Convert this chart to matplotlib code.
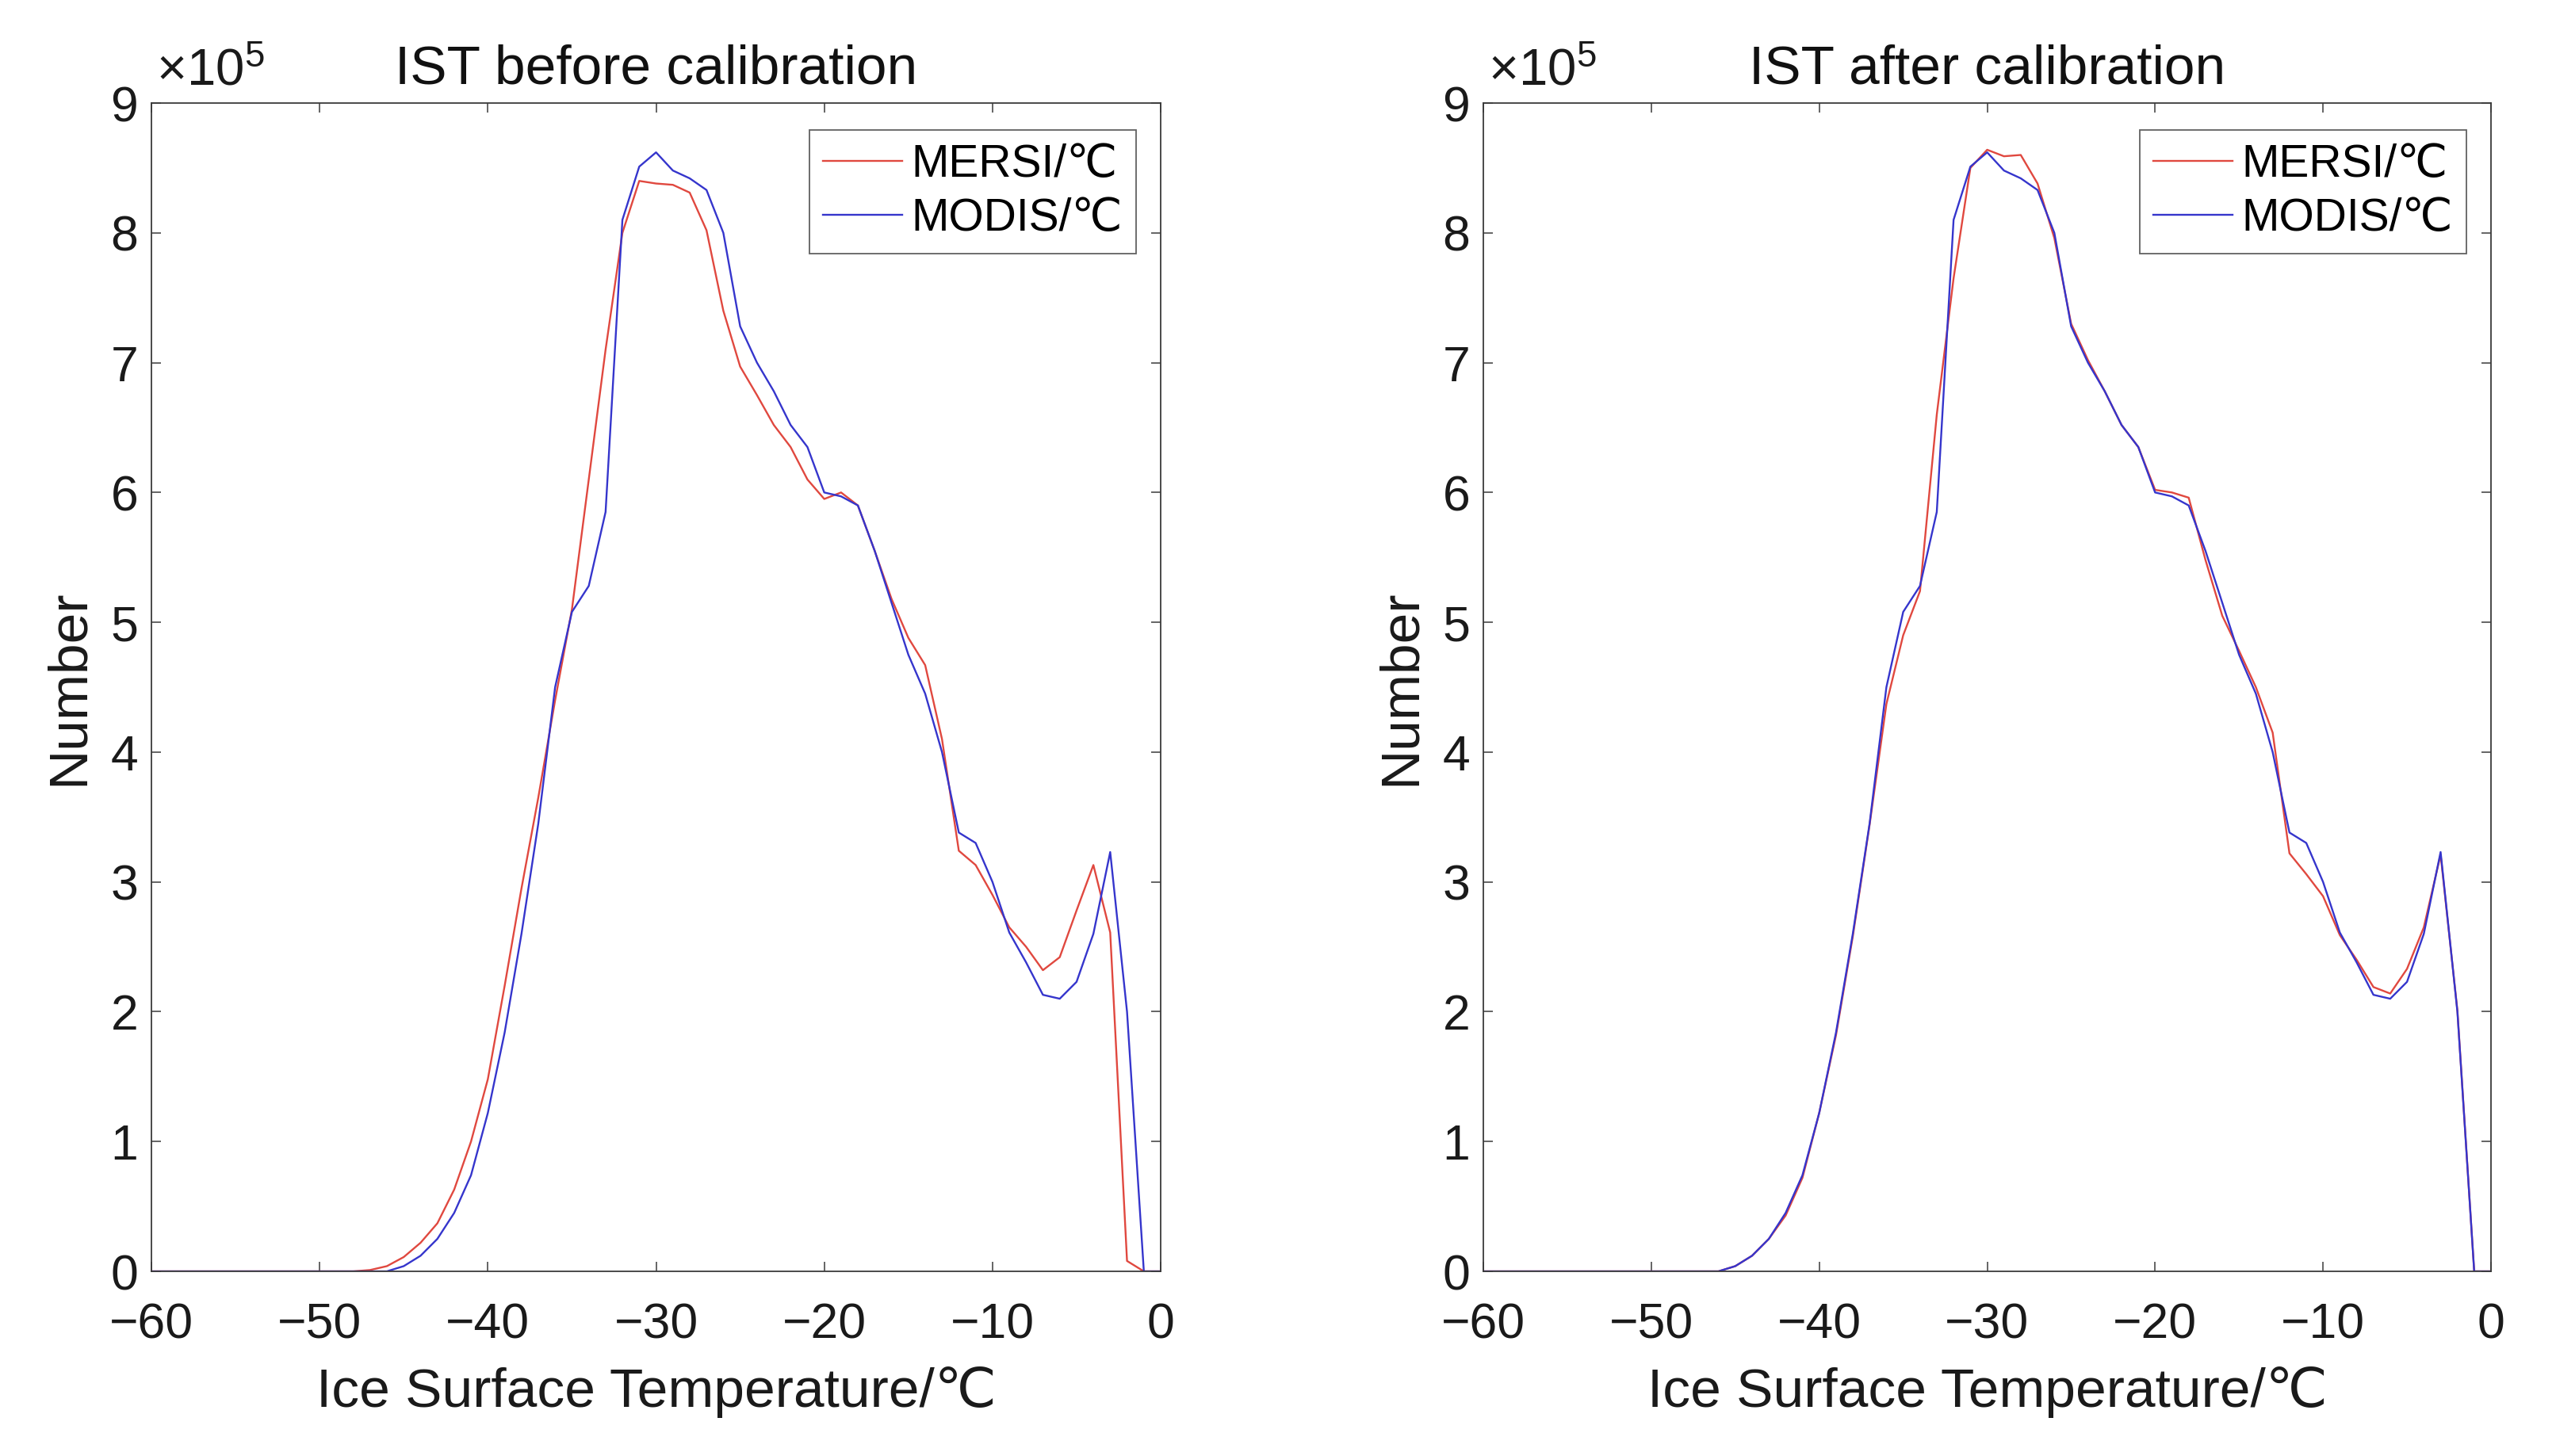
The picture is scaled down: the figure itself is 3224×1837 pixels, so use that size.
import matplotlib
matplotlib.use("Agg")
import matplotlib.pyplot as plt
import numpy as np

plt.rcParams['font.family'] = ['Liberation Sans', 'DejaVu Sans']

# Temperature bins (°C), 1 °C steps from -60 to 0
temperature = list(range(-60, 1))

# Counts in units of 10^5
modis = [0]*14 + [
    0.00, 0.04, 0.12, 0.25, 0.45, 0.74, 1.22, 1.84, 2.60, 3.45,   # -46 .. -37
    4.50, 5.08, 5.28, 5.85, 8.10, 8.51, 8.62, 8.48, 8.42, 8.33,   # -36 .. -27
    8.00, 7.28, 7.00, 6.78, 6.52, 6.35, 6.00, 5.97, 5.90, 5.55,   # -26 .. -17
    5.15, 4.75, 4.45, 4.00, 3.38, 3.30, 3.00, 2.61, 2.38, 2.13,   # -16 .. -7
    2.10, 2.23, 2.60, 3.23, 2.00, 0.00, 0.00]                     # -6 .. 0

mersi_before = [0]*13 + [
    0.01, 0.04, 0.11, 0.22, 0.37, 0.63, 1.00, 1.48, 2.20, 2.95,   # -47 .. -38
    3.65, 4.40, 5.10, 6.10, 7.10, 8.00, 8.40, 8.38, 8.37, 8.31,   # -37 .. -28
    8.02, 7.40, 6.97, 6.75, 6.52, 6.35, 6.10, 5.95, 6.00, 5.90,   # -27 .. -18
    5.55, 5.18, 4.88, 4.67, 4.10, 3.24, 3.13, 2.90, 2.65, 2.50,   # -17 .. -8
    2.32, 2.42, 2.78, 3.13, 2.61, 0.08, 0.00, 0.00]               # -7 .. 0

mersi_after = [0]*14 + [
    0.00, 0.04, 0.12, 0.25, 0.43, 0.72, 1.22, 1.82, 2.58, 3.44,   # -46 .. -37
    4.37, 4.90, 5.24, 6.60, 7.65, 8.50, 8.64, 8.59, 8.60, 8.38,   # -36 .. -27
    7.96, 7.30, 7.02, 6.78, 6.52, 6.35, 6.02, 6.00, 5.96, 5.48,   # -26 .. -17
    5.05, 4.78, 4.50, 4.15, 3.22, 3.06, 2.89, 2.59, 2.40, 2.19,   # -16 .. -7
    2.14, 2.33, 2.65, 3.21, 2.01, 0.00, 0.00]                     # -6 .. 0

titles = ["IST before calibration", "IST after calibration"]
series_labels = ["MERSI/℃", "MODIS/℃"]
x_ticks = [-60, -50, -40, -30, -20, -10, 0]
y_ticks = list(range(0, 10))

W, H = 3224, 1837
fig = plt.figure(figsize=(W/100, H/100), dpi=100)

ax_boxes = [
    (191/W, 1 - 1604/H, (1464-191)/W, (1604-130)/H),
    (1871/W, 1 - 1604/H, (3142-1871)/W, (1604-130)/H),
]

red = '#e0483f'
blue = '#3535cc'
axis_col = '#3a3a3a'

for box, title, mersi in zip(ax_boxes, titles, [mersi_before, mersi_after]):
    ax = fig.add_axes(box)
    ax.plot(temperature, mersi, color=red, lw=1.7, label=series_labels[0])
    ax.plot(temperature, modis, color=blue, lw=1.7, label=series_labels[1])
    ax.set_xlim(-60, 0)
    ax.set_ylim(0, 9)
    ax.set_xticks(x_ticks)
    ax.set_yticks(y_ticks)
    ax.tick_params(direction='in', length=8.5, width=1.1, colors=axis_col,
                   labelcolor='#1a1a1a', labelsize=45, top=True, right=True)
    ax.tick_params(axis='x', pad=28)
    ax.tick_params(axis='y', pad=12)
    for s in ax.spines.values():
        s.set_color(axis_col)
        s.set_linewidth(1.3)
    ax.set_title(title, fontsize=50, pad=18, color='#111111')
    ax.set_xlabel("Ice Surface Temperature/℃", fontsize=50, color='#1a1a1a', labelpad=16)
    ax.set_ylabel("Number", fontsize=50, color='#1a1a1a', labelpad=15)
    ax.text(0.005, 1.006, r'$\mathregular{\times10^{5}}$', transform=ax.transAxes,
            ha='left', va='bottom', fontsize=47, color='#1a1a1a')
    leg = ax.legend(loc='upper right', bbox_to_anchor=(0.9757, 0.977), borderaxespad=0,
                    fontsize=41, frameon=True, fancybox=False, handlelength=1.75,
                    handletextpad=0.2, labelspacing=0.25, borderpad=0.3)
    leg.get_frame().set_edgecolor(axis_col)
    leg.get_frame().set_linewidth(1.3)

fig.savefig("out.png", dpi=100, facecolor='white')
